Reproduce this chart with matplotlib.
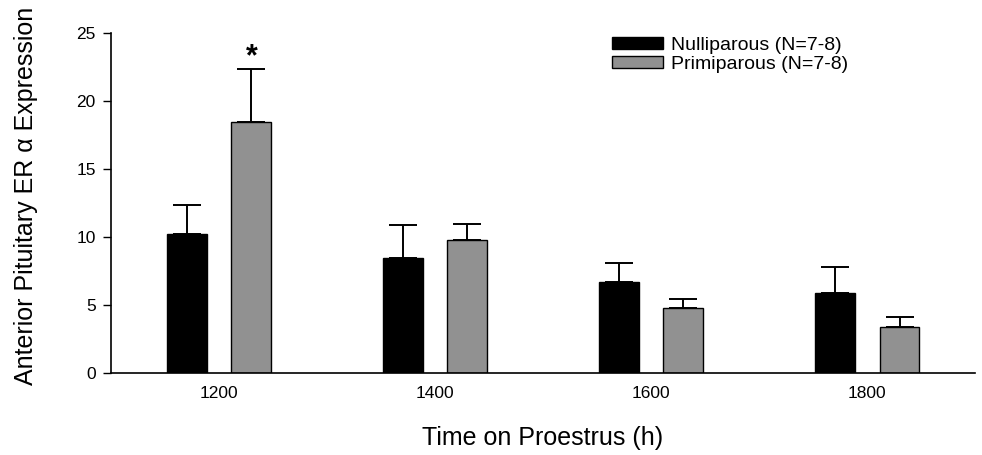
import matplotlib
matplotlib.use('Agg')
import matplotlib.pyplot as plt
import numpy as np

plt.rcParams['font.family'] = ['Liberation Sans', 'DejaVu Sans']

# Values
times = ['1200', '1400', '1600', '1800']
nulli_mean = [10.2, 8.5, 6.7, 5.9]
nulli_sem = [2.2, 2.4, 1.4, 1.9]
primi_mean = [18.45, 9.8, 4.8, 3.4]
primi_sem = [3.95, 1.2, 0.65, 0.75]

x = np.arange(len(times))
width = 0.185
offset = 0.15

fig = plt.figure(figsize=(9.82, 4.55), dpi=100)
ax = fig.add_axes([0.113, 0.18, 0.88, 0.747])

ax.bar(x - offset, nulli_mean, width, color='black', edgecolor='black', linewidth=1,
       label='Nulliparous (N=7-8)', zorder=2)
ax.bar(x + offset, primi_mean, width, color='#919191', edgecolor='black', linewidth=1,
       label='Primiparous (N=7-8)', zorder=2)

# upward-only error bars
ax.errorbar(x - offset, nulli_mean, yerr=[np.zeros(len(x)), nulli_sem], fmt='none',
            ecolor='black', elinewidth=1.4, capsize=10, capthick=1.4, zorder=1)
ax.errorbar(x + offset, primi_mean, yerr=[np.zeros(len(x)), primi_sem], fmt='none',
            ecolor='black', elinewidth=1.4, capsize=10, capthick=1.4, zorder=1)

# significance marker
ax.text(x[0] + offset, primi_mean[0] + primi_sem[0] - 0.3, '*', ha='center', va='bottom',
        fontsize=22, fontweight='bold')

ax.set_xlim(-0.5, 3.5)
ax.set_ylim(0, 25)
ax.set_yticks([0, 5, 10, 15, 20, 25])
ax.set_xticks(x)
ax.set_xticklabels(times)
ax.tick_params(axis='x', length=0, pad=9, labelsize=12.5)
ax.tick_params(axis='y', length=6, width=1, direction='out', labelsize=12.5, pad=5)
ax.spines['left'].set_linewidth(1.2)
ax.spines['bottom'].set_linewidth(1.2)

ax.spines['top'].set_visible(False)
ax.spines['right'].set_visible(False)

ax.set_xlabel('Time on Proestrus (h)', fontsize=18, labelpad=18)
ax.set_ylabel('Anterior Pituitary ER α Expression', fontsize=18)
ax.yaxis.set_label_coords(-0.085, 0.52)

ax.legend(loc='upper left', bbox_to_anchor=(0.56, 1.04), frameon=False, fontsize=14,
          handlelength=2.6, handleheight=0.55, labelspacing=0.1, handletextpad=0.4)

fig.savefig('out.png', dpi=100)
